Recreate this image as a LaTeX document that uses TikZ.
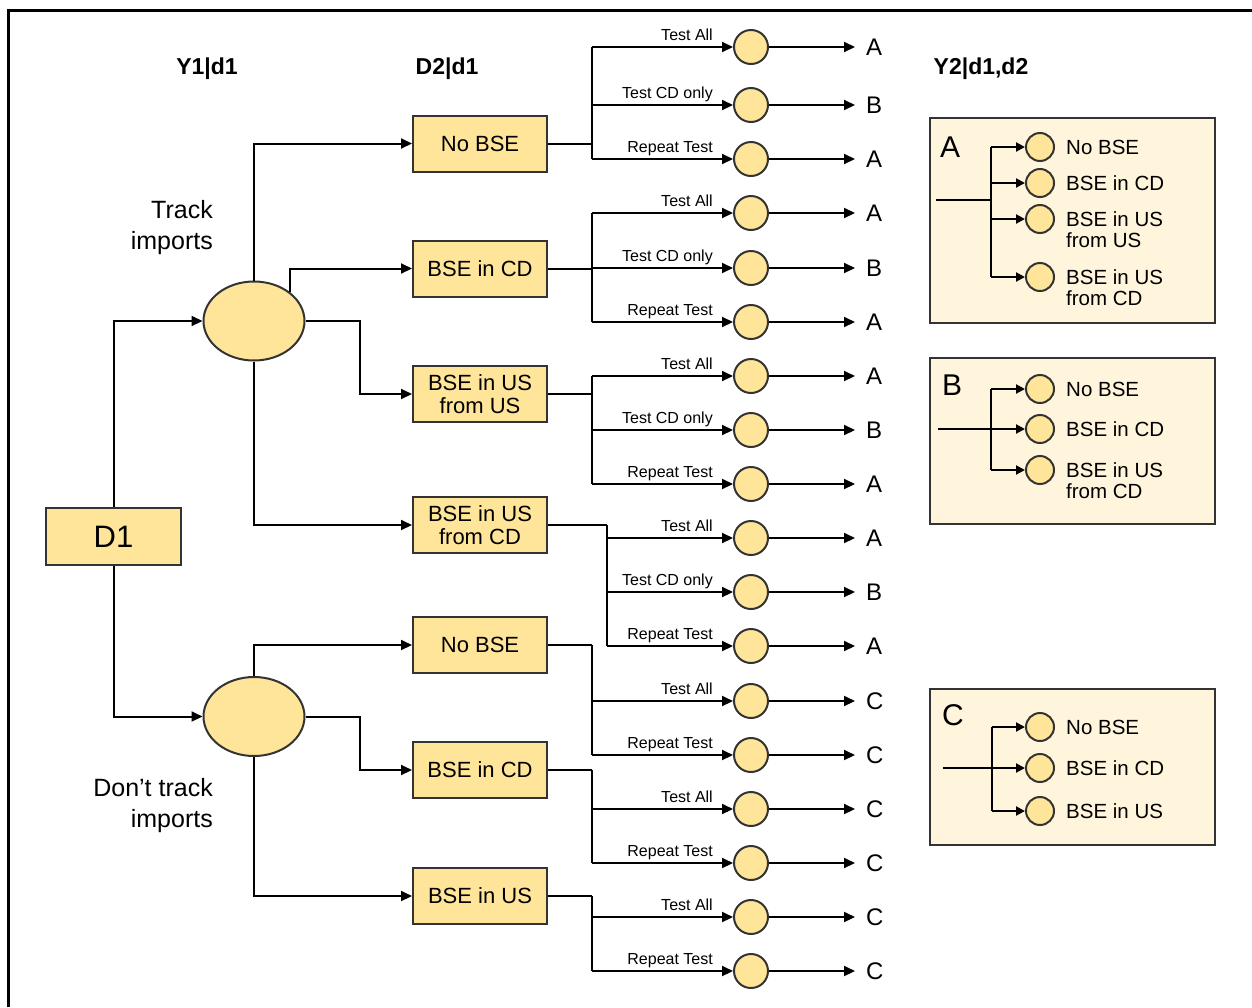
\documentclass[tikz,border=0pt]{standalone}
\usepackage{fontspec}
\setmainfont{Liberation Sans}
\usetikzlibrary{arrows.meta,shapes.geometric}
\definecolor{boxfill}{HTML}{FFE599}
\definecolor{legfill}{HTML}{FFF5DC}
\definecolor{edgec}{HTML}{333333}
\newcommand{\myfs}[2]{\fontsize{#1}{#2}\selectfont}
\begin{document}
\begin{tikzpicture}[x=1pt,y=-1pt,
 conn/.style={line width=2pt, black},
 arr/.style={conn, -{Triangle[length=11pt,width=10pt]}},
 larr/.style={conn, -{Triangle[length=9pt,width=9pt]}},
 dbox/.style={draw=edgec, line width=2pt, fill=boxfill, minimum width=134pt, minimum height=56pt, inner sep=0pt, align=center, font=\myfs{22}{23.5}},
 chance/.style={circle, draw=edgec, line width=2pt, fill=boxfill, minimum size=34pt, inner sep=0pt},
 bigchance/.style={ellipse, draw=edgec, line width=2pt, fill=boxfill, minimum width=101pt, minimum height=79pt, inner sep=0pt},
 lchance/.style={chance, minimum size=28pt},
 lab/.style={font=\myfs{16}{18}, inner sep=0pt, anchor=base east},
 endlet/.style={font=\myfs{24}{26}, inner sep=0pt, anchor=west},
 head/.style={font=\bfseries\myfs{23}{26}, inner sep=0pt, anchor=base},
 side/.style={font=\myfs{25}{31}, inner sep=0pt, anchor=base east},
 legbox/.style={draw=edgec, line width=2pt, fill=legfill, anchor=north west, inner sep=0pt},
 legtxt/.style={font=\myfs{20.5}{21}, inner sep=0pt, anchor=base west},
 legletter/.style={font=\myfs{30}{32}, inner sep=0pt, anchor=west},
]
\useasboundingbox (0,0) rectangle (1252,1007);
% frame
\draw[line width=3pt] (8,1007) -- (8,10) -- (1252,10);

% headers
\node[head] (h1) at (207,74) {Y1|d1};
\node[head] (h2) at (447,74) {D2|d1};
\node[head] (h3) at (981,74) {Y2|d1,d2};

% side labels
\node[side] (track) at (213,218) {\begin{tabular}[t]{@{}r@{}}Track\\imports\end{tabular}};
\node[side] (notrack) at (213,796) {\begin{tabular}[t]{@{}r@{}}Don’t track\\imports\end{tabular}};

% decision D1 and chance nodes
\node[dbox, minimum width=135pt, minimum height=57pt, font=\myfs{31}{33}] (d1) at (113.5,536.5) {D1};
\node[bigchance] (tE) at (254,321) {};
\node[bigchance] (bE) at (254,716.5) {};

% D2 boxes
\node[dbox] (b1) at (480,143.5) {No BSE};
\node[dbox] (b2) at (480,268.5) {BSE in CD};
\node[dbox] (b3) at (480,394) {BSE in US\\from US};
\node[dbox] (b4) at (480,525) {BSE in US\\from CD};
\node[dbox] (b5) at (480,645) {No BSE};
\node[dbox] (b6) at (480,770) {BSE in CD};
\node[dbox] (b7) at (480,896) {BSE in US};

% D1 connections
\draw[arr] (d1.north) |- (tE.west);
\draw[arr] (d1.south) |- (bE.west);

% top chance node connections
\draw[arr] (tE.north) |- (b1.west);
\draw[arr] (tE.north east) |- (b2.west);
\draw[arr] (tE.east) -- ++(54,0) |- (b3.west);
\draw[arr] (tE.south) |- (b4.west);

% bottom chance node connections
\draw[arr] (bE.north) |- (b5.west);
\draw[arr] (bE.east) -- ++(54,0) |- (b6.west);
\draw[arr] (bE.south) |- (b7.west);

% test outcome nodes
\foreach \n/\y/\lab/\lt in {
 11/47/Test All/A, 12/105/Test CD only/B, 13/159/Repeat Test/A,
 21/213/Test All/A, 22/268/Test CD only/B, 23/322/Repeat Test/A,
 31/376/Test All/A, 32/430/Test CD only/B, 33/484/Repeat Test/A,
 41/538/Test All/A, 42/592/Test CD only/B, 43/646/Repeat Test/A,
 51/701/Test All/C, 52/755/Repeat Test/C,
 61/809/Test All/C, 62/863/Repeat Test/C,
 71/917/Test All/C, 72/971/Repeat Test/C}
{
 \node[chance] (c\n) at (751,\y) {};
 \node[lab] (t\n) at (713,\y-7) {\lab};
 \node[endlet] (e\n) at (866,\y) {\lt};
 \draw[arr, shorten >=11pt] (c\n.east) -- (e\n.west);
}

% buses from D2 boxes to test branches
\foreach \g/\bus/\last in {1/44/3, 2/44/3, 3/44/3, 4/59/3, 5/44/2, 6/44/2, 7/44/2}
{
 \path (b\g.east) ++(\bus,0) coordinate (k\g);
 \draw[conn] (b\g.east) -- (k\g) (k\g |- c\g1.west) -- (k\g) -- (k\g |- c\g\last.west);
 \foreach \r in {1,...,\last}
  \draw[arr] (k\g |- c\g\r.west) -- (c\g\r.west);
}

% legend A
\node[legbox, minimum width=285pt, minimum height=205pt] (LA) at (929,117) {};
\node[legletter] (lA) at (940,147) {A};
\node[lchance] (a1) at (1040,147) {};
\node[lchance] (a2) at (1040,183) {};
\node[lchance] (a3) at (1040,219) {};
\node[lchance] (a4) at (1040,277) {};
\node[legtxt] (ta1) at (1066,154.3) {No BSE};
\node[legtxt] (ta2) at (1066,190.3) {BSE in CD};
\node[legtxt] (ta3) at (1066,226.3) {\begin{tabular}[t]{@{}l@{}}BSE in US\\from US\end{tabular}};
\node[legtxt] (ta4) at (1066,284.3) {\begin{tabular}[t]{@{}l@{}}BSE in US\\from CD\end{tabular}};
\coordinate (inA) at (936,200);
\coordinate (busA) at (991,200);
\draw[conn] (inA) -- (busA);
\draw[conn] (busA |- a1.west) -- (busA |- a4.west);
\foreach \k in {1,...,4} \draw[larr] (busA |- a\k.west) -- (a\k.west);

% legend B
\node[legbox, minimum width=285pt, minimum height=166pt] (LB) at (929,357) {};
\node[legletter] (lB) at (942,385) {B};
\node[lchance] (bb1) at (1040,389) {};
\node[lchance] (bb2) at (1040,429) {};
\node[lchance] (bb3) at (1040,470) {};
\node[legtxt] (tb1) at (1066,396.3) {No BSE};
\node[legtxt] (tb2) at (1066,436.3) {BSE in CD};
\node[legtxt] (tb3) at (1066,477.3) {\begin{tabular}[t]{@{}l@{}}BSE in US\\from CD\end{tabular}};
\coordinate (inB) at (938,429);
\coordinate (busB) at (991,429);
\draw[larr] (inB) -- (bb2.west);
\draw[conn] (busB |- bb1.west) -- (busB |- bb3.west);
\draw[larr] (busB |- bb1.west) -- (bb1.west);
\draw[larr] (busB |- bb3.west) -- (bb3.west);

% legend C
\node[legbox, minimum width=285pt, minimum height=156pt] (LC) at (929,688) {};
\node[legletter] (lC) at (942,715) {C};
\node[lchance] (cc1) at (1040,727) {};
\node[lchance] (cc2) at (1040,768) {};
\node[lchance] (cc3) at (1040,811) {};
\node[legtxt] (tc1) at (1066,734.3) {No BSE};
\node[legtxt] (tc2) at (1066,775.3) {BSE in CD};
\node[legtxt] (tc3) at (1066,818.3) {BSE in US};
\coordinate (inC) at (943,768);
\coordinate (busC) at (992,768);
\draw[larr] (inC) -- (cc2.west);
\draw[conn] (busC |- cc1.west) -- (busC |- cc3.west);
\draw[larr] (busC |- cc1.west) -- (cc1.west);
\draw[larr] (busC |- cc3.west) -- (cc3.west);
\end{tikzpicture}
\end{document}
